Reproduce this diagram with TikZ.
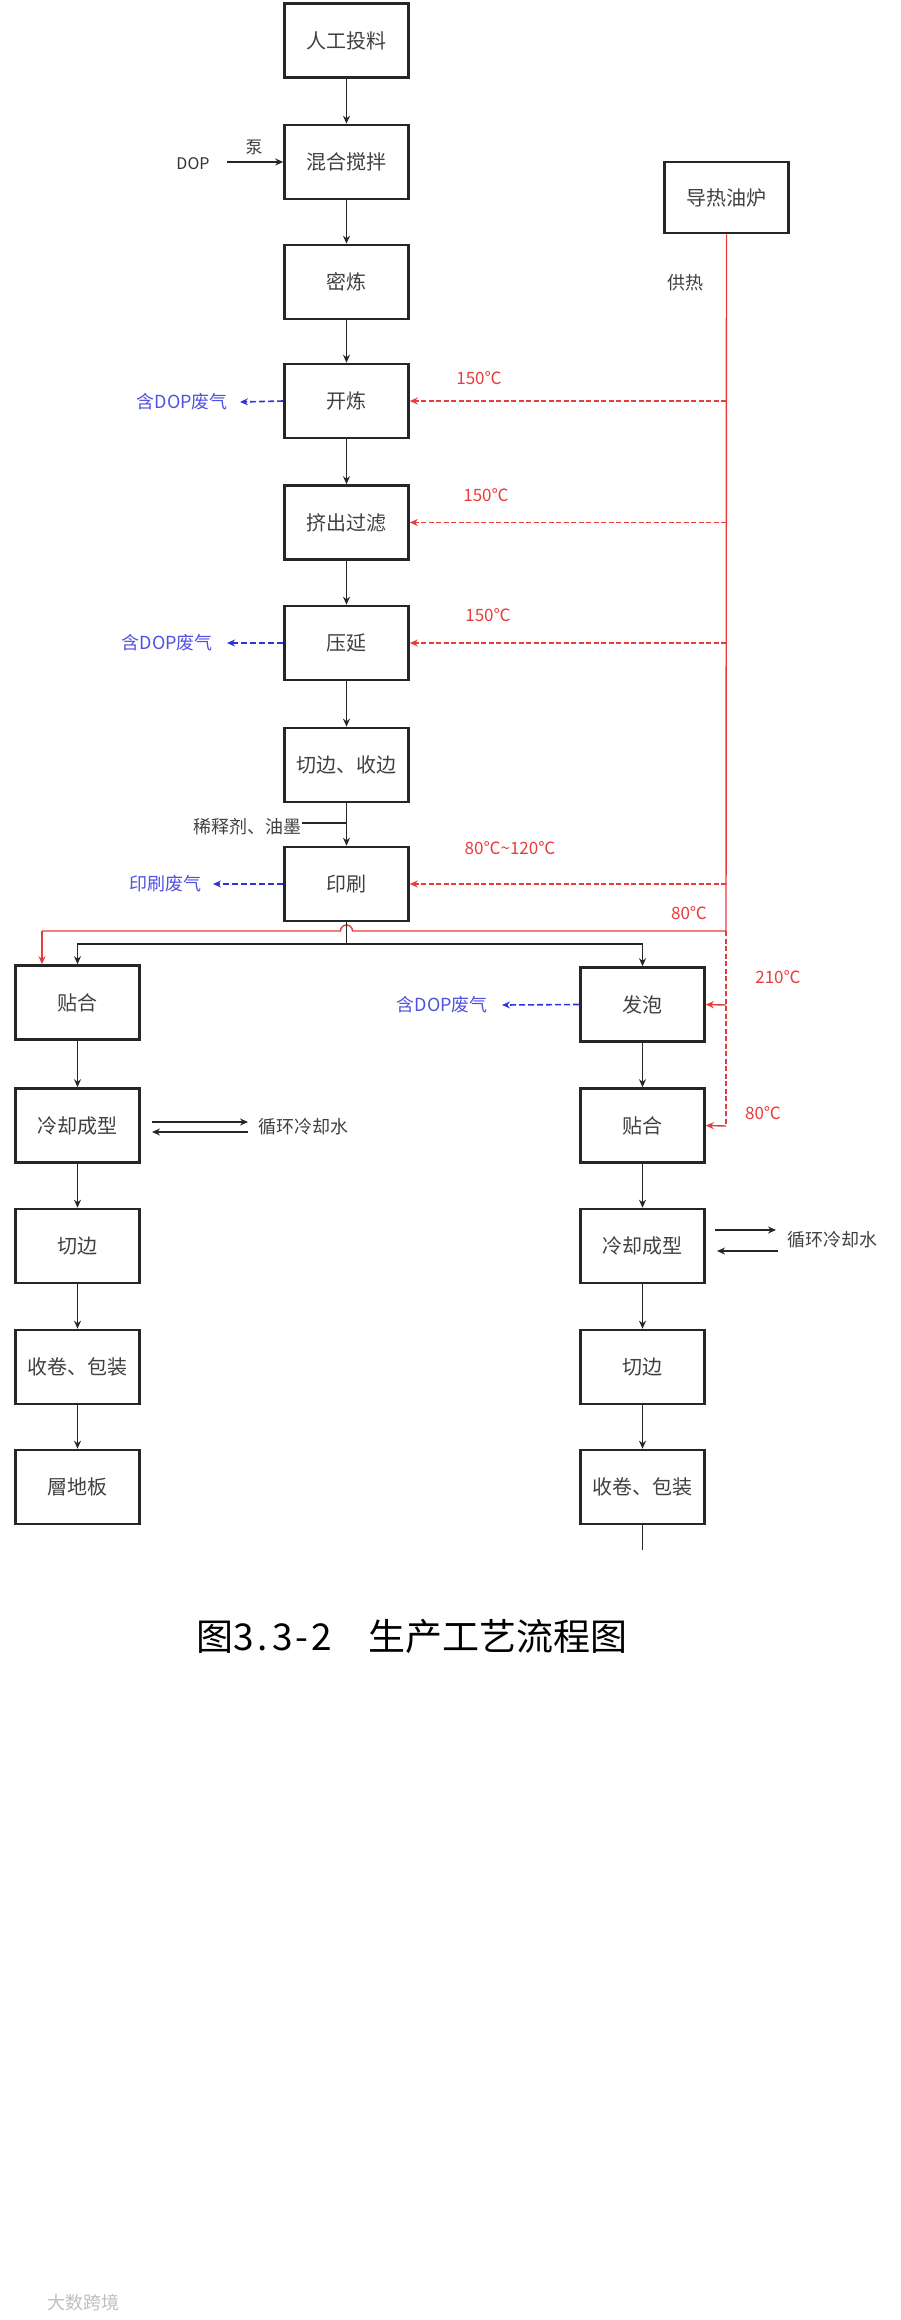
\documentclass[tikz,border=0pt]{standalone}
\usepackage{fontspec}
\setmainfont{Noto Sans CJK SC}
\usetikzlibrary{arrows.meta,calc}
\definecolor{hred}{RGB}{232,60,60}
\definecolor{gblue}{RGB}{50,50,220}
\tikzset{
  box/.style={draw=black!85, line width=2.6pt, minimum width=124pt, minimum height=74pt, inner sep=0pt, font=\fontsize{20}{22}\selectfont, text=black!75},
  flow/.style={line width=1.7pt, draw=black!85, -{Stealth[length=8pt,width=7pt]}},
  plain/.style={line width=1.7pt, draw=black!85},
  heat/.style={line width=1.4pt, draw=hred, dash pattern=on 5pt off 2.5pt, -{Stealth[length=8pt,width=7pt]}},
  heatsolid/.style={line width=1.4pt, draw=hred, -{Stealth[length=8pt,width=7pt]}},
  gas/.style={line width=1.6pt, draw=gblue, dash pattern=on 6pt off 3pt, -{Stealth[length=8pt,width=7pt]}},
  gaslbl/.style={text=gblue!85, font=\fontsize{18}{20}\selectfont, anchor=east, inner ysep=0pt},
  tlbl/.style={text=hred, font=\fontsize{17}{19}\selectfont, inner sep=0pt},
  blbl/.style={text=black!75, font=\fontsize{18}{20}\selectfont, inner sep=0pt},
}
\begin{document}
\begin{tikzpicture}[x=1pt,y=-1pt]
\useasboundingbox (0,0) rectangle (900,2320);
% main column
\node[box] (tg) at (346.5,40.5) {人工投料};
\node[box] (hh) at (346.5,162) {混合搅拌};
\node[box] (ml) at (346.5,282) {密炼};
\node[box] (kl) at (346.5,401) {开炼};
\node[box] (jc) at (346.5,522.5) {挤出过滤};
\node[box] (yy) at (346.5,643) {压延};
\node[box] (qb) at (346.5,765) {切边、收边};
\node[box] (ys) at (346.5,884) {印刷};
\node[box, minimum height=71pt] (rl) at (726.5,197.5) {导热油炉};
% left branch
\node[box] (L1) at (77.5,1002.5) {贴合};
\node[box] (L2) at (77.5,1125.5) {冷却成型};
\node[box] (L3) at (77.5,1246) {切边};
\node[box] (L4) at (77.5,1367) {收卷、包装};
\node[box] (L5) at (77.5,1487) {層地板};
% right branch
\node[box] (R1) at (642.5,1004.5) {发泡};
\node[box] (R2) at (642.5,1125.5) {贴合};
\node[box] (R3) at (642.5,1246) {冷却成型};
\node[box] (R4) at (642.5,1367) {切边};
\node[box] (R5) at (642.5,1487) {收卷、包装};
\coordinate (R5end) at (642.5,1550);

% main flow arrows
\draw[flow] (tg) -- (hh);
\draw[flow] (hh) -- (ml);
\draw[flow] (ml) -- (kl);
\draw[flow] (kl) -- (jc);
\draw[flow] (jc) -- (yy);
\draw[flow] (yy) -- (qb);
\draw[flow] (qb) -- (ys);

% DOP input
\node[font=\fontsize{16}{18}\selectfont, text=black!80, inner sep=0pt] (dop) at (193,164) {DOP};
\node[blbl, font=\fontsize{17}{19}\selectfont] (beng) at (254,147) {泵};
\coordinate (dopa) at (227,162);
\draw[flow, line width=1.3pt] (dopa) -- (hh.west);

% diluent
\node[blbl, anchor=east] (xs) at (302,827) {稀释剂、油墨};
\coordinate (xsj) at (346.5,823);
\draw[plain, line width=1.3pt] (xs.east |- xsj) -- (xsj);

% heat supply
\node[blbl] (gr) at (685,283) {供热};
\coordinate (hb) at (726,931);
\coordinate (hd) at (726,1126);
\draw[hred, line width=1.4pt] (rl.south) -- (hb);
\draw[hred, line width=1.4pt, dash pattern=on 5pt off 2.5pt] (hb) -- (hd);
\coordinate (h1) at (726,401);
\coordinate (h2) at (726,522.5);
\coordinate (h3) at (726,643);
\coordinate (h4) at (726,884);
\coordinate (h5) at (726,1005);
\draw[heat] (h1) -- (kl.east);
\draw[heat] (h2) -- (jc.east);
\draw[heat] (h3) -- (yy.east);
\draw[heat] (h4) -- (ys.east);
\draw[heatsolid] (h5) -- (R1.east);
\draw[heatsolid] (hd) -- (R2.east);
\node[tlbl] (t1) at (479,378) {150℃};
\node[tlbl] (t2) at (486,495) {150℃};
\node[tlbl] (t3) at (488,615) {150℃};
\node[tlbl] (t4) at (510,848) {80℃\textasciitilde120℃};
\node[tlbl] (t5) at (689,913) {80℃};
\node[tlbl] (t6) at (778,977) {210℃};
\node[tlbl] (t7) at (763,1113) {80℃};

% red line to left 贴合 with hop
\coordinate (rc) at (42,931);
\draw[hred, line width=1.4pt] (hb) -- (352.5,931) arc[start angle=0, end angle=180, radius=6pt] -- (rc);
\draw[heatsolid] (rc) -- (rc |- L1.north);

% split from 印刷
\coordinate (sp) at (346.5,944);
\draw[plain] (ys.south) -- (sp);
\draw[flow] (sp) -| (L1.north);
\draw[flow] (sp) -| (R1.north);

% waste gas
\node[gaslbl, inner xsep=12pt] (g1) at (240,402) {含DOP废气};
\node[gaslbl, inner xsep=14pt] (g2) at (227,643) {含DOP废气};
\node[gaslbl, inner xsep=11pt] (g3) at (213,884) {印刷废气};
\node[gaslbl, inner xsep=14pt] (g4) at (502,1005) {含DOP废气};
\draw[gas] (kl.west) -- (g1.east);
\draw[gas] (yy.west) -- (g2.east);
\draw[gas] (ys.west) -- (g3.east);
\draw[gas] (R1.west) -- (g4.east);

% left branch arrows
\draw[flow] (L1) -- (L2);
\draw[flow] (L2) -- (L3);
\draw[flow] (L3) -- (L4);
\draw[flow] (L4) -- (L5);
% right branch arrows
\draw[flow] (R1) -- (R2);
\draw[flow] (R2) -- (R3);
\draw[flow] (R3) -- (R4);
\draw[flow] (R4) -- (R5);
\draw[plain] (R5.south) -- (R5end);

% cooling water
\node[blbl, anchor=west] (cw1) at (258,1127) {循环冷却水};
\coordinate (c1a) at (152,1122);
\coordinate (c1b) at (248,1122);
\coordinate (c1c) at (248,1132);
\coordinate (c1d) at (152,1132);
\draw[flow, line width=1.4pt] (c1a) -- (c1b);
\draw[flow, line width=1.4pt] (c1c) -- (c1d);
\node[blbl, anchor=west] (cw2) at (787,1240) {循环冷却水};
\coordinate (c2a) at (715,1230);
\coordinate (c2b) at (776,1230);
\coordinate (c2c) at (778,1251);
\coordinate (c2d) at (717,1251);
\draw[flow, line width=1.3pt] (c2a) -- (c2b);
\draw[flow, line width=1.3pt] (c2c) -- (c2d);

% title
\node[font=\fontsize{37}{40}\selectfont, inner sep=0pt] (title) at (412,1637) {图\makebox[0.55em]{3}\makebox[0.5em]{.}\makebox[0.55em]{3}\makebox[0.5em]{-}\makebox[0.55em]{2}\hspace{1em}生产工艺流程图};
% watermark
\node[text=black!25, font=\fontsize{18}{20}\selectfont, inner sep=0pt] (wm) at (83,2303) {大数跨境};
\end{tikzpicture}
\end{document}
